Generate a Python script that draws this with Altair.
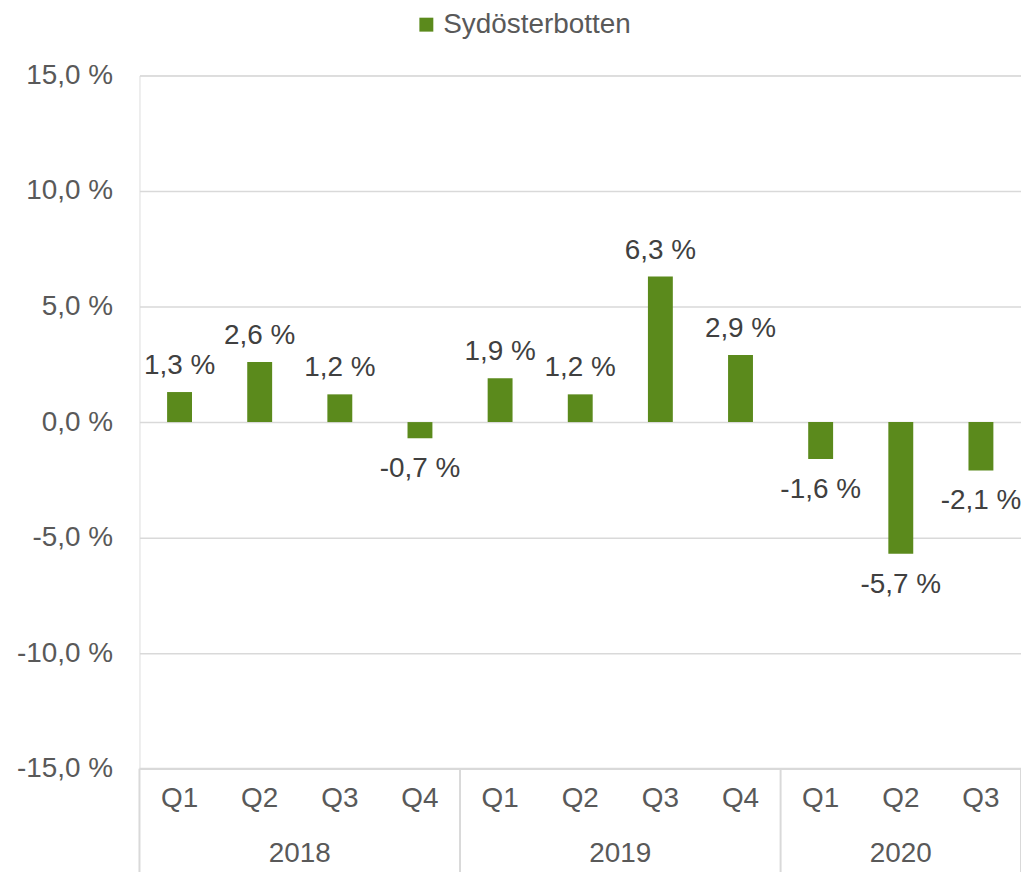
import altair as alt
import pandas as pd

quarters = ["Q1", "Q2", "Q3", "Q4", "Q1", "Q2", "Q3", "Q4", "Q1", "Q2", "Q3"]
years = ["2018", "2018", "2018", "2018", "2019", "2019", "2019", "2019", "2020", "2020", "2020"]
values = [1.3, 2.6, 1.2, -0.7, 1.9, 1.2, 6.3, 2.9, -1.6, -5.7, -2.1]
series_name = "Sydösterbotten"
y_ticks = [-15, -10, -5, 0, 5, 10, 15]

FONT = "Liberation Sans"
FS = 28
GREEN = "#5b8a1c"
GRID = "#d9d9d9"
AXIS_TXT = "#595959"
LABEL_TXT = "#404040"
W, H = 885, 696

df = pd.DataFrame({
    "idx": list(range(len(values))),
    "quarter": quarters,
    "year": years,
    "value": values,
    "series": [series_name] * len(values),
})
df["label"] = [f"{v:.1f}".replace(".", ",") + " %" for v in values]

# year group centres and separators derived from data
ydf = df.groupby("year").idx.agg(["min", "max"]).reset_index()
ydf["center"] = (ydf["min"] + ydf["max"]) / 2
seps = sorted(set(list(ydf["min"] - 0.5) + list(ydf["max"] + 0.5)))
sep_df = pd.DataFrame({"pos": seps})

xscale = alt.Scale(domain=[-0.5, len(values) - 0.5], nice=False, zero=False, padding=0)
yscale = alt.Scale(domain=[-15, 15], nice=False)

base = alt.Chart(df)

bars = base.mark_bar(size=25).encode(
    x=alt.X("idx:Q", scale=xscale, axis=None),
    y=alt.Y(
        "value:Q",
        scale=yscale,
        axis=alt.Axis(
            values=y_ticks,
            title=None,
            grid=True,
            gridColor=GRID,
            gridWidth=1.5,
            domain=False,
            ticks=False,
            labelFont=FONT,
            labelFontSize=FS,
            labelColor=AXIS_TXT,
            labelPadding=27,
            labelExpr="replace(replace(format(datum.value, '.1f'), '.', ','), '\u2212', '-') + ' %'",
        ),
    ),
    color=alt.Color(
        "series:N",
        scale=alt.Scale(range=[GREEN]),
        legend=alt.Legend(
            orient="none",
            legendX=274,
            legendY=-65,
            title=None,
            symbolType="square",
            symbolSize=196,
            symbolStrokeWidth=0,
            labelFont=FONT,
            labelFontSize=FS,
            labelColor=AXIS_TXT,
            labelOffset=3,
            labelLimit=0,
            padding=0,
        ),
    ),
)

pos_labels = base.transform_filter("datum.value >= 0").mark_text(
    font=FONT, fontSize=FS, color=LABEL_TXT, baseline="alphabetic", dy=-18
).encode(x=alt.X("idx:Q", scale=xscale), y=alt.Y("value:Q", scale=yscale), text="label:N")

neg_labels = base.transform_filter("datum.value < 0").mark_text(
    font=FONT, fontSize=FS, color=LABEL_TXT, baseline="alphabetic", dy=39
).encode(x=alt.X("idx:Q", scale=xscale), y=alt.Y("value:Q", scale=yscale), text="label:N")

bottom_line = alt.Chart(pd.DataFrame({"v": [-15]})).mark_rule(color=GRID, strokeWidth=2).encode(
    y=alt.Y("v:Q", scale=yscale), x=alt.value(0), x2=alt.value(W)
)

sep_rules = alt.Chart(sep_df).mark_rule(color=GRID, strokeWidth=2).encode(
    x=alt.X("pos:Q", scale=xscale), y=alt.value(H), y2=alt.value(H + 110)
)

q_text = base.mark_text(font=FONT, fontSize=FS, color=AXIS_TXT, baseline="middle").encode(
    x=alt.X("idx:Q", scale=xscale), y=alt.value(H + 30), text="quarter:N"
)

year_text = alt.Chart(ydf).mark_text(font=FONT, fontSize=FS, color=AXIS_TXT, baseline="middle").encode(
    x=alt.X("center:Q", scale=xscale), y=alt.value(H + 86), text="year:N"
)

chart = alt.layer(bars, pos_labels, neg_labels, bottom_line, sep_rules, q_text, year_text).properties(
    width=W,
    height=H,
    autosize=alt.AutoSizeParams(type="none"),
    padding={"left": 132, "top": 66, "right": 0, "bottom": 110},
).configure_view(stroke=None).configure(background="white")

chart.save("out.html", embed_options={"renderer": "svg", "actions": False})
